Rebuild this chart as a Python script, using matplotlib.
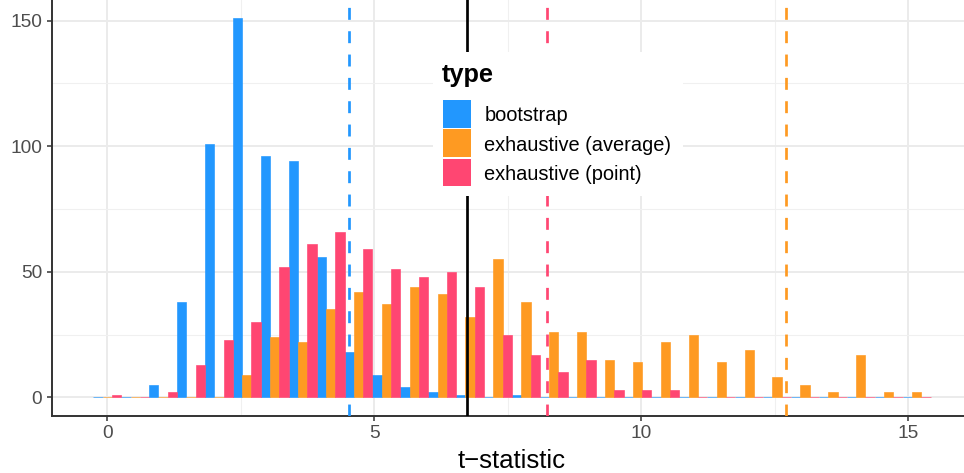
import numpy as np
import matplotlib
matplotlib.use("Agg")
import matplotlib.pyplot as plt
from matplotlib.patches import Rectangle

plt.rcParams["font.family"] = ["Liberation Sans", "DejaVu Sans"]
plt.rcParams["lines.scale_dashes"] = False

# Histogram counts per bin (bins of equal width, centred on multiples of bin_width)
bin_width = 0.5228
n_bins = 30
bootstrap = [0, 0, 5, 38, 101, 151, 96, 94, 56, 18, 9, 4, 2, 1, 0,
             1, 0, 0, 0, 0, 0, 0, 0, 0, 0, 0, 0, 0, 0, 0]
exhaustive_average = [0, 0, 0, 0, 0, 9, 24, 22, 35, 42, 37, 44, 41, 32, 55,
                      38, 26, 26, 15, 14, 22, 25, 14, 19, 8, 5, 2, 17, 2, 2]
exhaustive_point = [1, 0, 2, 13, 23, 30, 52, 61, 66, 59, 51, 48, 50, 44, 25,
                    17, 10, 15, 3, 3, 3, 0, 0, 0, 0, 0, 0, 0, 0, 0]

series_names = ["bootstrap", "exhaustive (average)", "exhaustive (point)"]
series_values = [bootstrap, exhaustive_average, exhaustive_point]
series_colors = ["#2297FE", "#FE9A22", "#FF4672"]

# Reference lines: bootstrap / average / point summaries and observed statistic
vline_bootstrap = 4.53
vline_observed = 6.74
vline_point = 8.23
vline_average = 12.72

x_ticks = [0, 5, 10, 15]
y_ticks = [0, 50, 100, 150]

W, H = 964, 473
fig = plt.figure(figsize=(W / 100, H / 100), dpi=100)
ax = fig.add_axes([51.5 / W, 1 - 416.3 / H, 920.9 / W, 417.2 / H])

centers = np.arange(n_bins) * bin_width
sub_w = bin_width / 3
for i, (vals, col) in enumerate(zip(series_values, series_colors)):
    ax.bar(centers + (i - 1) * sub_w, vals, width=sub_w, color=col,
           edgecolor=col, linewidth=0.45, zorder=2)

# limits with 5% expansion like the data range
lo = centers[0] - bin_width / 2
hi = centers[-1] + bin_width / 2
span = hi - lo
ax.set_xlim(lo - 0.05 * span, hi + 0.05 * span)
ymax = max(max(s) for s in series_values)
ax.set_ylim(-0.05 * ymax, ymax * 1.05)

dash = (0, (8.6, 8.2))
lw = 1.95
ax.axvline(vline_bootstrap, color=series_colors[0], lw=lw, ls=dash, zorder=3)
ax.axvline(vline_observed, color="black", lw=lw, zorder=3)
ax.axvline(vline_point, color=series_colors[2], lw=lw, ls=dash, zorder=3)
ax.axvline(vline_average, color=series_colors[1], lw=lw, ls=dash, zorder=3)

# grid
ax.set_xticks(x_ticks)
ax.set_yticks(y_ticks)
ax.set_xticks([2.5, 7.5, 12.5], minor=True)
ax.set_yticks([25, 75, 125], minor=True)
ax.grid(which="major", color="#EBEBEB", lw=1.4, zorder=0)
ax.grid(which="minor", color="#F0F0F0", lw=0.75, zorder=0)
ax.set_axisbelow(True)

for s in ["top", "right"]:
    ax.spines[s].set_visible(False)
for s in ["left", "bottom"]:
    ax.spines[s].set_color("#333333")
    ax.spines[s].set_linewidth(1.4)
ax.tick_params(which="major", length=3.4, width=1.1, color="#333333",
               labelcolor="#4D4D4D", labelsize=13.8, pad=3.2)
ax.tick_params(which="minor", length=0)
ax.set_xlabel("t\u2212statistic", fontsize=18.5, color="black", labelpad=5)

# legend panel
def fx(px):
    return px / W

def fy(py):
    return 1 - py / H

fig.add_artist(Rectangle((fx(433), fy(196)), fx(250), 144 / H,
                         transform=fig.transFigure, facecolor="white",
                         edgecolor="none", zorder=5))
fig.text(fx(441.7), fy(81.7), "type", fontsize=18.3, fontweight="bold",
         ha="left", va="baseline", zorder=6)
row_top = [100.0, 129.3, 158.6]
for name, col, top in zip(series_names, series_colors, row_top):
    fig.add_artist(Rectangle((fx(442.7), fy(top + 27.6)), fx(28.3), 27.6 / H,
                             transform=fig.transFigure, facecolor=col,
                             edgecolor="none", zorder=6))
    fig.text(fx(484.3), fy(top + 13.8), name, fontsize=14.4, ha="left",
             va="center_baseline", zorder=6)

fig.savefig("out.png", dpi=100)
